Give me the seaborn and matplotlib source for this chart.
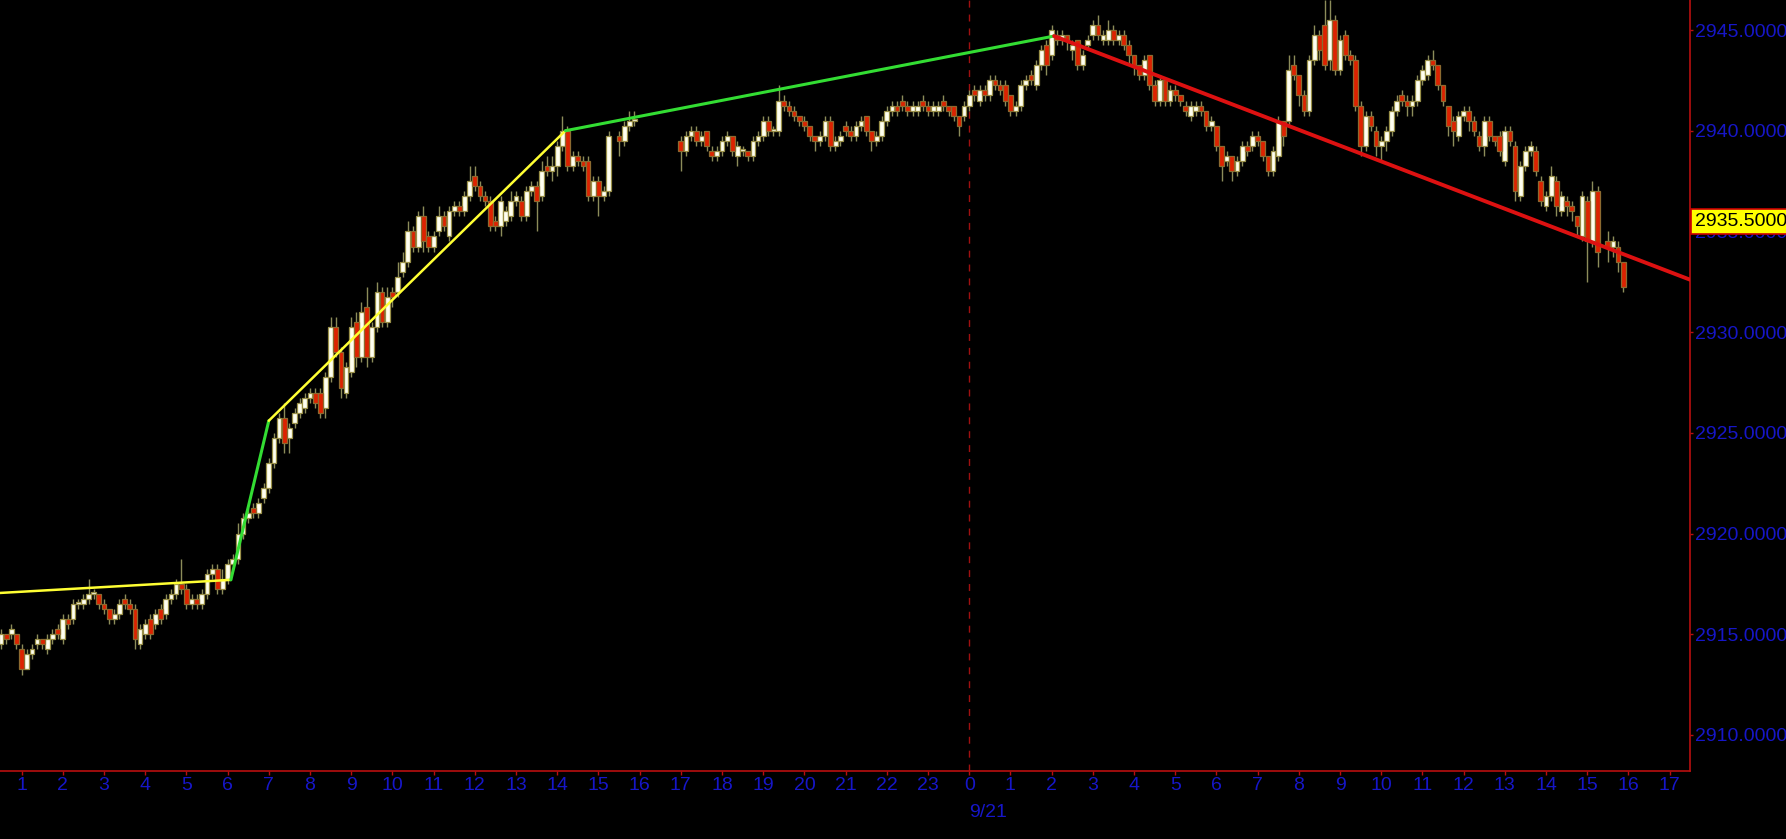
import numpy as np
import pandas as pd
import matplotlib
matplotlib.use("Agg")
import matplotlib.pyplot as plt
import matplotlib.transforms as mtransforms
import seaborn as sns

# two trading sessions, 7.5 minute bars (8 per hour); hours counted from 9/20 00:00
session_start = [0.5, 17.0]
session_bars = [124, 184]
bars_per_hour = 8

# OHLC, one row per hour (None = no bar)
opens = [
    2914.5, 2915.0, 2915.0, 2915.0,
    2914.25, 2913.25, 2914.0, 2914.5, 2914.75, 2914.25, 2914.75, 2915.25,
    2914.75, 2915.75, 2915.75, 2916.5, 2916.5, 2916.75, 2917.0, 2917.0,
    2916.5, 2916.25, 2915.75, 2916.0, 2916.75, 2916.5, 2916.25, 2914.5,
    2915.0, 2915.75, 2915.5, 2916.25, 2916.0, 2916.75, 2917.0, 2917.5,
    2917.25, 2916.5, 2916.75, 2916.5, 2917.0, 2918.0, 2918.25, 2917.25,
    2917.75, 2918.5, 2918.75, 2920.0, 2920.75, 2921.25, 2921.0, 2921.75,
    2922.25, 2923.5, 2924.75, 2925.75, 2924.75, 2925.5, 2926.0, 2926.25,
    2926.75, 2927.0, 2927.0, 2926.25, 2927.75, 2930.25, 2929.0, 2927.0,
    2928.0, 2930.5, 2928.75, 2931.25, 2928.75, 2930.25, 2932.0, 2930.5,
    2932.0, 2932.0, 2933.0, 2933.5, 2935.0, 2934.25, 2935.75, 2934.75,
    2934.25, 2935.0, 2935.75, 2934.75, 2936.0, 2936.25, 2936.0, 2936.75,
    2937.75, 2937.25, 2936.75, 2936.5, 2935.5, 2935.25, 2935.5, 2935.75,
    2936.5, 2936.5, 2935.75, 2937.0, 2937.25, 2936.75, 2938.25, 2938.0,
    2938.25, 2939.25, 2940.0, 2938.25, 2938.75, 2938.5, 2938.5, 2936.75,
    2937.5, 2936.75, 2937.0, None, 2939.75, 2939.5, 2940.25, 2940.5,
    # session 2 (17:00 -> 16:00)
    2939.5, 2939.0, 2939.75, 2940.0, 2939.5, 2940.0, 2939.0, 2938.75,
    2939.0, 2939.5, 2939.75, 2938.75, 2939.0, 2939.0, 2938.75, 2939.5,
    2939.75, 2940.5, 2940.0, 2940.0, 2941.5, 2941.25, 2941.0, 2940.75,
    2940.5, 2940.25, 2939.75, 2939.5, 2939.75, 2940.5, 2939.25, 2939.5,
    2940.25, 2940.0, 2939.75, 2940.25, 2940.75, 2940.0, 2939.5, 2939.75,
    2940.5, 2941.0, 2941.25, 2941.5, 2941.25, 2941.0, 2941.0, 2941.5,
    2941.25, 2941.0, 2941.0, 2941.5, 2941.25, 2941.25, 2940.75, 2940.75,
    2941.25, 2942.0, 2941.5, 2942.0, 2941.75, 2942.5, 2942.25, 2942.25,
    2941.75, 2941.0, 2941.25, 2942.25, 2942.75, 2942.25, 2943.25, 2944.25,
    2943.75, 2944.75, 2944.5, 2944.75, 2944.0, 2944.5, 2943.25, 2944.25,
    2944.75, 2945.25, 2944.5, 2944.5, 2945.0, 2944.5, 2944.75, 2944.25,
    2943.75, 2943.25, 2942.75, 2943.75, 2942.25, 2941.5, 2942.5, 2941.5,
    2942.0, 2941.75, 2941.25, 2940.75, 2941.0, 2941.25, 2941.0, 2940.25,
    2940.25, 2939.25, 2938.5, 2938.75, 2938.0, 2938.5, 2939.25, 2939.25,
    2939.75, 2939.5, 2938.75, 2938.0, 2938.75, 2940.5, 2940.5, 2943.25,
    2942.75, 2941.75, 2941.0, 2943.5, 2944.75, 2945.25, 2943.5, 2945.5,
    2943.0, 2944.75, 2943.75, 2943.5, 2941.25, 2939.25, 2940.75, 2940.0,
    2939.25, 2939.5, 2940.0, 2941.0, 2941.75, 2941.5, 2941.25, 2941.5,
    2942.5, 2942.75, 2943.5, 2943.25, 2942.25, 2941.25, 2940.5, 2939.75,
    2940.75, 2941.0, 2940.5, 2939.75, 2939.25, 2940.5, 2939.75, 2939.75,
    2938.5, 2940.0, 2939.25, 2936.75, 2938.25, 2939.0, 2939.0, 2937.5,
    2936.25, 2936.75, 2937.5, 2936.0, 2936.5, 2936.25, 2935.75, 2934.75,
    2936.5, 2934.5, 2937.0, None, 2934.5, 2934.25, 2934.25, 2933.5,
]
highs = [
    2915.25, 2915.0, 2915.5, 2915.0,
    2914.5, 2914.25, 2914.5, 2915.0, 2914.75, 2915.0, 2915.25, 2915.5,
    2916.0, 2916.0, 2916.75, 2916.75, 2917.0, 2917.75, 2917.25, 2917.0,
    2916.75, 2916.25, 2916.25, 2916.75, 2917.0, 2916.75, 2916.5, 2915.5,
    2915.75, 2916.0, 2916.25, 2916.5, 2917.0, 2917.25, 2917.75, 2918.75,
    2917.5, 2917.0, 2917.0, 2917.25, 2918.25, 2918.5, 2918.5, 2918.25,
    2918.75, 2919.0, 2920.5, 2921.0, 2921.25, 2921.5, 2921.75, 2922.5,
    2923.75, 2925.0, 2926.0, 2926.5, 2925.5, 2926.25, 2926.75, 2927.0,
    2927.25, 2927.25, 2927.25, 2928.0, 2930.75, 2930.75, 2929.25, 2928.5,
    2930.75, 2931.0, 2931.5, 2932.25, 2930.5, 2932.5, 2932.25, 2932.25,
    2932.25, 2933.5, 2934.0, 2935.5, 2935.25, 2936.0, 2936.25, 2935.0,
    2935.0, 2936.25, 2936.0, 2936.25, 2936.5, 2936.5, 2937.0, 2938.25,
    2938.25, 2937.5, 2937.0, 2936.75, 2935.75, 2936.75, 2936.25, 2937.0,
    2937.0, 2936.75, 2937.25, 2937.5, 2937.5, 2938.5, 2938.75, 2938.75,
    2939.5, 2940.75, 2940.25, 2939.0, 2939.0, 2938.75, 2938.75, 2937.75,
    2937.75, 2937.25, 2940.0, None, 2940.0, 2940.5, 2941.0, 2941.0,
    # session 2
    2939.75, 2940.0, 2940.25, 2940.25, 2940.0, 2940.0, 2939.25, 2939.25,
    2939.75, 2940.0, 2939.75, 2939.5, 2939.25, 2939.0, 2939.75, 2940.0,
    2940.75, 2940.75, 2940.25, 2942.25, 2941.75, 2941.5, 2941.25, 2940.75,
    2940.75, 2940.25, 2939.75, 2940.0, 2940.75, 2940.75, 2939.75, 2940.0,
    2940.5, 2940.25, 2940.5, 2940.75, 2940.75, 2940.0, 2940.0, 2940.75,
    2941.25, 2941.5, 2941.5, 2941.75, 2941.5, 2941.5, 2941.5, 2941.75,
    2941.5, 2941.5, 2941.5, 2941.75, 2941.25, 2941.25, 2940.75, 2941.5,
    2942.0, 2942.25, 2942.25, 2942.25, 2942.75, 2942.75, 2942.5, 2942.5,
    2941.75, 2941.5, 2942.5, 2942.75, 2943.0, 2943.5, 2944.25, 2944.5,
    2945.25, 2945.0, 2945.0, 2944.75, 2944.5, 2944.5, 2944.0, 2944.75,
    2945.5, 2945.75, 2945.0, 2945.5, 2945.25, 2945.0, 2945.0, 2944.5,
    2943.75, 2943.25, 2943.75, 2943.75, 2942.5, 2942.75, 2942.5, 2942.25,
    2942.25, 2941.75, 2941.5, 2941.5, 2941.5, 2941.5, 2941.0, 2940.75,
    2940.25, 2939.25, 2939.0, 2938.75, 2938.75, 2939.5, 2939.5, 2940.0,
    2940.0, 2939.5, 2938.75, 2939.25, 2940.75, 2940.5, 2943.75, 2943.75,
    2942.75, 2942.0, 2943.75, 2945.25, 2945.0, 2946.5, 2946.5, 2945.75,
    2944.75, 2945.0, 2944.0, 2943.75, 2941.5, 2941.0, 2941.0, 2940.25,
    2939.75, 2940.25, 2941.25, 2941.75, 2942.0, 2941.75, 2941.75, 2942.75,
    2943.25, 2943.75, 2944.0, 2943.25, 2942.25, 2941.25, 2940.75, 2941.0,
    2941.25, 2941.25, 2940.75, 2940.0, 2940.75, 2940.75, 2939.75, 2940.0,
    2940.25, 2940.25, 2939.5, 2938.5, 2939.25, 2939.5, 2939.25, 2937.75,
    2937.0, 2938.25, 2937.75, 2937.0, 2936.75, 2936.5, 2935.75, 2937.0,
    2936.75, 2937.5, 2937.25, None, 2935.0, 2934.75, 2934.5, 2933.5,
]
lows = [
    2914.25, 2914.5, 2914.75, 2914.25,
    2913.0, 2913.25, 2913.75, 2914.25, 2914.25, 2914.0, 2914.5, 2914.75,
    2914.5, 2915.25, 2915.5, 2916.25, 2916.25, 2916.5, 2916.75, 2916.25,
    2916.0, 2915.5, 2915.5, 2915.75, 2916.25, 2916.0, 2914.25, 2914.25,
    2914.75, 2914.75, 2915.25, 2915.5, 2915.75, 2916.5, 2916.75, 2917.0,
    2916.25, 2916.25, 2916.25, 2916.25, 2916.75, 2917.75, 2917.0, 2917.0,
    2917.5, 2918.25, 2918.5, 2919.75, 2920.5, 2920.75, 2920.75, 2921.5,
    2922.0, 2923.25, 2924.5, 2924.0, 2924.0, 2925.25, 2925.75, 2926.0,
    2926.5, 2926.25, 2925.75, 2925.75, 2927.5, 2928.75, 2926.75, 2926.75,
    2927.75, 2928.25, 2928.5, 2928.25, 2928.5, 2930.0, 2930.25, 2930.25,
    2931.25, 2931.75, 2932.75, 2933.25, 2934.0, 2934.0, 2934.0, 2934.0,
    2934.0, 2934.75, 2935.0, 2934.5, 2935.75, 2935.75, 2935.75, 2936.5,
    2937.0, 2936.5, 2936.25, 2935.0, 2935.0, 2934.75, 2935.25, 2935.5,
    2936.25, 2935.5, 2935.5, 2936.75, 2935.0, 2936.5, 2937.75, 2937.5,
    2937.75, 2939.0, 2938.0, 2938.0, 2938.25, 2938.0, 2936.5, 2936.5,
    2935.75, 2936.5, 2936.75, None, 2938.75, 2939.25, 2940.0, 2940.25,
    # session 2
    2938.0, 2938.75, 2939.5, 2939.25, 2939.25, 2939.0, 2938.5, 2938.5,
    2938.75, 2939.25, 2938.75, 2938.25, 2938.75, 2938.5, 2938.5, 2939.25,
    2939.5, 2939.75, 2939.75, 2939.75, 2941.0, 2940.75, 2940.5, 2940.25,
    2940.0, 2939.5, 2939.0, 2939.25, 2939.5, 2939.0, 2939.0, 2939.25,
    2939.75, 2939.5, 2939.5, 2940.0, 2939.75, 2939.0, 2939.25, 2939.5,
    2940.25, 2940.75, 2940.75, 2941.0, 2940.75, 2940.75, 2940.75, 2941.0,
    2940.75, 2940.75, 2940.75, 2941.0, 2940.75, 2940.5, 2939.75, 2940.5,
    2941.0, 2941.5, 2941.25, 2941.5, 2941.5, 2942.0, 2941.75, 2941.25,
    2940.75, 2940.75, 2941.0, 2942.0, 2942.25, 2942.0, 2943.0, 2942.75,
    2943.5, 2944.25, 2944.25, 2944.0, 2943.5, 2943.0, 2943.0, 2944.0,
    2944.5, 2944.5, 2944.25, 2944.25, 2944.25, 2944.25, 2944.0, 2943.25,
    2942.75, 2942.5, 2942.5, 2942.0, 2941.25, 2941.25, 2941.25, 2941.25,
    2941.5, 2941.25, 2940.75, 2940.5, 2940.75, 2940.75, 2940.0, 2940.0,
    2939.0, 2937.5, 2938.25, 2937.5, 2937.75, 2938.25, 2938.75, 2939.0,
    2939.25, 2938.5, 2937.75, 2937.75, 2938.5, 2939.25, 2940.25, 2942.5,
    2941.25, 2940.75, 2940.75, 2943.25, 2943.5, 2943.0, 2943.0, 2942.75,
    2942.75, 2943.5, 2943.25, 2941.0, 2938.75, 2939.0, 2940.0, 2938.75,
    2938.5, 2939.0, 2939.75, 2940.75, 2941.25, 2940.75, 2940.75, 2941.25,
    2942.25, 2942.5, 2943.0, 2942.0, 2941.25, 2939.75, 2939.25, 2939.5,
    2940.5, 2940.0, 2939.75, 2939.0, 2938.75, 2939.5, 2939.25, 2938.75,
    2938.25, 2939.25, 2936.5, 2936.5, 2938.0, 2938.75, 2937.75, 2936.25,
    2936.0, 2936.5, 2935.75, 2935.75, 2935.75, 2935.5, 2934.75, 2934.5,
    2932.5, 2934.25, 2933.25, None, 2933.5, 2933.75, 2933.0, 2932.0,
]
closes = [
    2915.0, 2914.75, 2915.25, 2914.5,
    2913.25, 2914.0, 2914.25, 2914.75, 2914.5, 2914.75, 2915.0, 2915.0,
    2915.75, 2915.5, 2916.5, 2916.5, 2916.75, 2917.0, 2917.0, 2916.5,
    2916.25, 2915.75, 2916.0, 2916.5, 2916.5, 2916.25, 2914.75, 2915.25,
    2915.5, 2915.0, 2916.0, 2915.75, 2916.75, 2917.0, 2917.5, 2917.25,
    2916.5, 2916.75, 2916.5, 2917.0, 2918.0, 2918.25, 2917.25, 2917.75,
    2918.5, 2918.75, 2920.0, 2920.75, 2921.0, 2921.0, 2921.5, 2922.25,
    2923.5, 2924.75, 2925.75, 2924.5, 2925.25, 2926.0, 2926.5, 2926.75,
    2927.0, 2926.5, 2926.0, 2927.75, 2930.25, 2929.0, 2927.25, 2928.25,
    2930.25, 2928.75, 2931.0, 2928.75, 2930.25, 2932.0, 2930.5, 2931.75,
    2931.75, 2932.75, 2933.5, 2935.0, 2934.25, 2935.75, 2934.5, 2934.25,
    2934.75, 2935.75, 2935.25, 2936.0, 2936.25, 2936.0, 2936.75, 2937.5,
    2937.25, 2936.75, 2936.5, 2935.25, 2935.25, 2936.5, 2936.0, 2936.5,
    2936.75, 2935.75, 2937.0, 2937.25, 2936.5, 2938.0, 2938.0, 2938.25,
    2939.25, 2940.0, 2938.25, 2938.75, 2938.5, 2938.25, 2936.75, 2937.5,
    2936.75, 2937.0, 2939.75, None, 2939.5, 2940.25, 2940.5, 2940.5,
    # session 2
    2939.0, 2939.75, 2940.0, 2939.5, 2939.75, 2939.25, 2938.75, 2939.0,
    2939.5, 2939.75, 2939.0, 2939.25, 2939.0, 2938.75, 2939.5, 2939.75,
    2940.5, 2940.0, 2940.0, 2941.5, 2941.25, 2941.0, 2940.75, 2940.5,
    2940.25, 2939.75, 2939.5, 2939.75, 2940.5, 2939.25, 2939.5, 2939.75,
    2940.0, 2939.75, 2940.25, 2940.5, 2940.0, 2939.5, 2939.75, 2940.5,
    2941.0, 2941.25, 2941.0, 2941.25, 2941.0, 2941.25, 2941.25, 2941.25,
    2941.0, 2941.25, 2941.25, 2941.25, 2941.0, 2940.75, 2940.25, 2941.25,
    2941.75, 2941.75, 2942.0, 2941.75, 2942.5, 2942.25, 2942.0, 2941.5,
    2941.0, 2941.25, 2942.25, 2942.5, 2942.5, 2943.25, 2944.0, 2943.25,
    2945.0, 2944.5, 2944.75, 2944.5, 2944.25, 2943.25, 2943.75, 2944.5,
    2945.25, 2944.75, 2944.75, 2945.0, 2944.5, 2944.75, 2944.25, 2943.75,
    2943.25, 2942.75, 2943.5, 2942.25, 2941.5, 2942.5, 2941.5, 2942.0,
    2941.75, 2941.5, 2941.0, 2941.25, 2941.25, 2941.0, 2940.25, 2940.5,
    2939.25, 2938.25, 2938.75, 2938.0, 2938.5, 2939.25, 2939.0, 2939.75,
    2939.5, 2938.75, 2938.0, 2939.0, 2940.5, 2939.75, 2943.0, 2942.75,
    2941.75, 2941.0, 2943.5, 2944.75, 2944.0, 2943.25, 2945.5, 2943.0,
    2944.5, 2943.75, 2943.5, 2941.25, 2939.25, 2940.75, 2940.25, 2939.25,
    2939.5, 2940.0, 2941.0, 2941.5, 2941.5, 2941.25, 2941.5, 2942.5,
    2943.0, 2943.5, 2943.25, 2942.25, 2941.5, 2940.25, 2940.0, 2940.75,
    2941.0, 2940.5, 2940.0, 2939.25, 2940.5, 2939.75, 2939.5, 2939.0,
    2940.0, 2939.5, 2937.0, 2938.25, 2939.0, 2939.25, 2938.0, 2936.5,
    2936.75, 2937.75, 2936.25, 2936.75, 2936.25, 2936.0, 2935.25, 2936.75,
    2934.5, 2937.0, 2934.0, None, 2934.25, 2934.5, 2933.5, 2932.25,
]

# x axis: one tick per hour, 9/20 01:00 -> 9/21 17:00
hour_ticks = list(range(1, 42))
hour_labels = [1, 2, 3, 4, 5, 6, 7, 8, 9, 10, 11, 12, 13, 14, 15, 16, 17, 18, 19, 20,
               21, 22, 23, 0, 1, 2, 3, 4, 5, 6, 7, 8, 9, 10, 11, 12, 13, 14, 15, 16, 17]
day_break = 24
day_label = "9/21"
price_ticks = [2910, 2915, 2920, 2925, 2930, 2935, 2940, 2945]
last_price = 2935.5

# hand drawn trend lines (hour, price) pairs
trend_t = [[0.476, 6.08], [6.08, 7.0], [7.0, 14.2], [14.2, 26.06], [26.06, 41.5]]
trend_p = [[2917.05, 2917.7], [2917.7, 2925.6], [2925.6, 2940.0], [2940.0, 2944.7], [2944.7, 2932.6]]
trend_colors = ["#ffff33", "#33dd33", "#ffff33", "#33dd33", "#dd1111"]
trend_widths = [1.8, 2.2, 1.8, 2.2, 2.8]

# build the bar table
times = np.concatenate([s + np.arange(n) / bars_per_hour for s, n in zip(session_start, session_bars)])
df = pd.DataFrame({
    "t": times,
    "open": np.array(opens, dtype=float),
    "high": np.array(highs, dtype=float),
    "low": np.array(lows, dtype=float),
    "close": np.array(closes, dtype=float),
}).dropna()
df["up"] = df["close"] >= df["open"]
df["body_lo"] = df[["open", "close"]].min(axis=1)
df["body_h"] = (df["close"] - df["open"]).abs().clip(lower=0.08)

sns.set_theme(style="dark", rc={"axes.facecolor": "black", "figure.facecolor": "black",
                                "axes.grid": False})
plt.rcParams["font.family"] = ["Liberation Sans", "DejaVu Sans"]

axis_red = "#b80f0f"
label_blue = "#1616c8"

fig = plt.figure(figsize=(17.86, 8.39), dpi=100)
ax = fig.add_axes([0, 0.08105, 0.94625, 0.91895])
ax.set_facecolor("black")

# wicks then bodies
ax.vlines(df["t"], df["low"], df["high"], color="#8c8c5a", lw=1.0, zorder=2)
up = df[df["up"]]
dn = df[~df["up"]]
ax.bar(up["t"], up["body_h"], bottom=up["body_lo"], width=0.115,
       color="#fffff0", edgecolor="#9a9048", linewidth=0.9, zorder=3)
ax.bar(dn["t"], dn["body_h"], bottom=dn["body_lo"], width=0.115,
       color="#dd2200", edgecolor="#8c6a30", linewidth=0.9, zorder=3)

# trend lines
for tt, pp, c, w in zip(trend_t, trend_p, trend_colors, trend_widths):
    sns.lineplot(x=tt, y=pp, color=c, lw=w, ax=ax, sort=False, estimator=None, zorder=4)

ax.axvline(day_break, color="#a01010", lw=1.0, ls=(0, (5, 5)), zorder=1)

ax.set_xlim(0.476, 41.495)
ax.set_ylim(2908.21, 2946.49)

ax.set_xticks(hour_ticks)
ax.set_xticklabels([str(h) for h in hour_labels])
ax.yaxis.tick_right()
ax.set_yticks(price_ticks)
ax.set_yticklabels([f"{p:.4f}" for p in price_ticks])
ax.tick_params(axis="x", colors=axis_red, labelcolor=label_blue, labelsize=14,
               length=3, width=1, pad=1.5, direction="out", bottom=True)
ax.tick_params(axis="y", colors=axis_red, labelcolor=label_blue, labelsize=14,
               length=2.5, width=1, pad=1, direction="out", right=True, left=False)
ax.set_xlabel("")
ax.set_ylabel("")

for side in ["top", "left"]:
    ax.spines[side].set_visible(False)
for side in ["right", "bottom"]:
    ax.spines[side].set_visible(True)
    ax.spines[side].set_color(axis_red)
    ax.spines[side].set_linewidth(1.2)

ax.annotate(day_label, xy=(day_break, 0), xycoords=("data", "axes fraction"),
            xytext=(0, -30), textcoords="offset points", ha="left", va="center",
            color=label_blue, fontsize=14, annotation_clip=False)

# last price marker sits over the 2935 tick label, as in the source chart
trans = mtransforms.blended_transform_factory(ax.transAxes, ax.transData)
ax.annotate(f"{last_price:.4f}", xy=(1.0, last_price), xycoords=trans,
            xytext=(3.5, 0), textcoords="offset points", ha="left", va="center",
            color="black", fontsize=14, annotation_clip=False, zorder=10,
            bbox=dict(boxstyle="square,pad=0.2", fc="#ffff00", ec="#cc0000", lw=1.2))

fig.savefig("out.png", dpi=100, facecolor="black")
